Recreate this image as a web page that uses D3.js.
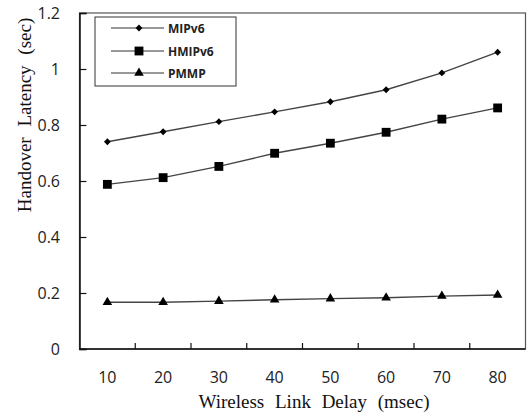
<!DOCTYPE html>
<html>
<head>
<meta charset="utf-8">
<script src="https://cdn.jsdelivr.net/npm/d3@7"></script>
<style>
  body { margin: 0; background: #fff; }
</style>
</head>
<body>
<div id="chart"></div>
<script>
var delays = ["10", "20", "30", "40", "50", "60", "70", "80"];
var mipv6 = [0.74, 0.776, 0.812, 0.847, 0.883, 0.926, 0.986, 1.06];
var hmipv6 = [0.588, 0.612, 0.652, 0.699, 0.735, 0.774, 0.821, 0.861];
var pmmp = [0.167, 0.167, 0.171, 0.176, 0.180, 0.183, 0.189, 0.193];
var yTicks = [0, 0.2, 0.4, 0.6, 0.8, 1, 1.2];

var series = [
    {name: "MIPv6", values: mipv6, symbol: d3.symbolDiamond2, size: 30},
    {name: "HMIPv6", values: hmipv6, symbol: d3.symbolSquare, size: 78},
    {name: "PMMP", values: pmmp, symbol: d3.symbolTriangle, size: 40}
];

var width = 527, height = 416;
var margin = {left: 79.5, right: 1.5, top: 13, bottom: 67};

var svg = d3.select("#chart").append("svg")
    .attr("width", width)
    .attr("height", height);

var x = d3.scaleBand()
    .domain(delays)
    .range([margin.left, width - margin.right]);

var y = d3.scaleLinear()
    .domain([0, 1.2])
    .range([height - margin.bottom, margin.top]);

// plot frame
svg.append("rect")
    .attr("x", margin.left)
    .attr("y", margin.top)
    .attr("width", width - margin.right - margin.left)
    .attr("height", y(0) - margin.top)
    .attr("fill", "none")
    .attr("stroke", "#555")
    .attr("stroke-width", 1.2);

// y axis, ticks point inward
var yAxis = svg.append("g")
    .attr("transform", "translate(" + margin.left + ",0)")
    .call(d3.axisRight(y).tickValues(yTicks).tickSize(7).tickFormat(""));
yAxis.select(".domain").attr("stroke", "#111").attr("stroke-width", 1.5);
yAxis.selectAll(".tick line").attr("stroke", "#111").attr("stroke-width", 1.2);

svg.selectAll(".ylabel")
    .data(yTicks)
    .enter().append("text")
    .attr("class", "ylabel")
    .attr("x", 60)
    .attr("y", function (d) { return y(d) + 6; })
    .attr("text-anchor", "end")
    .style("font-family", "'Open Sans', 'Noto Sans', sans-serif")
    .style("font-size", "16px")
    .style("fill", "#222")
    .text(function (d) { return d; });

// x axis, ticks between categories, inward
var xTickPos = delays.slice(1).map(function (d) { return x(d); });
var xAxis = svg.append("g")
    .attr("transform", "translate(0," + y(0) + ")");
xAxis.append("line")
    .attr("x1", margin.left).attr("x2", width - margin.right)
    .attr("y1", 0).attr("y2", 0)
    .attr("stroke", "#111").attr("stroke-width", 1.5);
xAxis.selectAll(".xtick")
    .data(xTickPos)
    .enter().append("line")
    .attr("class", "xtick")
    .attr("x1", function (d) { return d; })
    .attr("x2", function (d) { return d; })
    .attr("y1", 0).attr("y2", -6)
    .attr("stroke", "#111").attr("stroke-width", 1.2);

svg.selectAll(".xlabel")
    .data(delays)
    .enter().append("text")
    .attr("class", "xlabel")
    .attr("x", function (d) { return x(d) + x.bandwidth() / 2; })
    .attr("y", 383)
    .attr("text-anchor", "middle")
    .style("font-family", "'Open Sans', 'Noto Sans', sans-serif")
    .style("font-size", "16px")
    .style("fill", "#222")
    .text(function (d) { return d; });

// axis titles
svg.append("text")
    .attr("x", 314)
    .attr("y", 408)
    .attr("text-anchor", "middle")
    .style("font-family", "'Liberation Serif', 'DejaVu Serif', serif")
    .style("font-size", "19px")
    .style("word-spacing", "6px")
    .style("fill", "#111")
    .text("Wireless Link Delay (msec)");

svg.append("text")
    .attr("transform", "translate(31,115) rotate(-90)")
    .attr("text-anchor", "middle")
    .style("font-family", "'Liberation Serif', 'DejaVu Serif', serif")
    .style("font-size", "19px")
    .style("word-spacing", "6px")
    .style("fill", "#111")
    .text("Handover Latency (sec)");

// series lines and markers
var line = d3.line()
    .x(function (d, i) { return x(delays[i]) + x.bandwidth() / 2; })
    .y(function (d) { return y(d); });

series.forEach(function (s) {
    svg.append("path")
        .datum(s.values)
        .attr("d", line)
        .attr("fill", "none")
        .attr("stroke", "#444")
        .attr("stroke-width", 1.4);

    svg.selectAll(".pt-" + s.name)
        .data(s.values)
        .enter().append("path")
        .attr("class", "pt-" + s.name)
        .attr("d", d3.symbol().type(s.symbol).size(s.size))
        .attr("transform", function (d, i) {
            return "translate(" + (x(delays[i]) + x.bandwidth() / 2) + "," + y(d) + ")";
        })
        .attr("fill", "#000");
});

// legend
var legend = svg.append("g");
legend.append("rect")
    .attr("x", 95).attr("y", 17)
    .attr("width", 141).attr("height", 69)
    .attr("fill", "#fff")
    .attr("stroke", "#333")
    .attr("stroke-width", 1);

var rowY = [28, 51, 73];
series.forEach(function (s, i) {
    var row = legend.append("g").attr("transform", "translate(0," + rowY[i] + ")");
    row.append("line")
        .attr("x1", 111).attr("x2", 164)
        .attr("y1", 0).attr("y2", 0)
        .attr("stroke", "#333").attr("stroke-width", 1.2);
    row.append("path")
        .attr("d", d3.symbol().type(s.symbol).size(s.size))
        .attr("transform", "translate(139,0)")
        .attr("fill", "#000");
    row.append("text")
        .attr("x", 168)
        .attr("y", 4.5)
        .style("font-family", "'Open Sans', 'Noto Sans', sans-serif")
        .style("font-size", "12px")
        .style("font-weight", "bold")
        .style("fill", "#222")
        .text(s.name);
});
</script>
</body>
</html>
